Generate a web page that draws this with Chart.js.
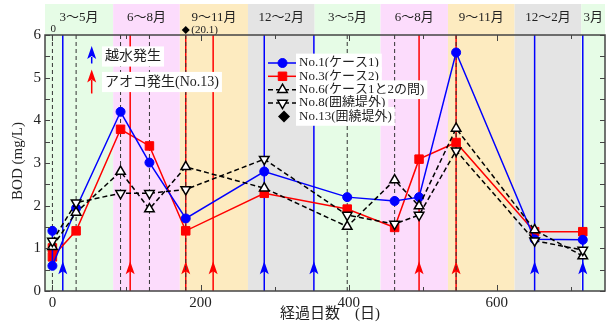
<!DOCTYPE html>
<html>
<head>
<meta charset="utf-8">
<script src="https://cdn.jsdelivr.net/npm/chart.js@4/dist/chart.umd.min.js"></script>
<style>
  html, body { margin: 0; padding: 0; background: #fff; }
  canvas { display: block; }
</style>
</head>
<body>
<canvas id="c" width="612" height="329"></canvas>
<script>
// ---- data ----------------------------------------------------------------
// elapsed days of each sampling (two samplings on day 0 for No.1 / No.3)
const pairDays   = [0, 0, 32, 92, 131, 180, 286, 398, 462, 495, 545, 651, 716];
const sampleDays = [0, 32, 92, 131, 180, 286, 398, 462, 495, 545, 651, 716];

// BOD (mg/L)
const no1Bod = [1.41, 0.59, 1.94, 4.20, 3.01, 1.70, 2.80, 2.20, 2.11, 2.20, 5.59, 1.21, 1.20];
const no3Bod = [1.01, 0.80, 1.41, 3.79, 3.40, 1.41, 2.29, 1.92, 1.49, 3.09, 3.48, 1.39, 1.39];
const no6Bod = [1.04, 1.84, 2.80, 1.92, 2.91, 2.41, 1.51, 2.60, 1.99, 3.81, 1.43, 0.82];
const no8Bod = [1.17, 2.07, 2.29, 2.29, 2.38, 3.09, 1.78, 1.57, 1.78, 3.29, 1.18, 0.96];

// No.13 (outside the embankment) – off the scale, shown at the top edge
const no13Days = [180];
const no13Bod  = [20.1];

// events
const floodDays = [14, 286, 353, 651, 716];   // 越水発生
const bloomDays = [105, 180, 217, 495, 545];  // アオコ発生(No.13)

// days drawn with a black dashed guide line
const guideDays = [0, 32, 92, 131, 180, 398, 462, 545];

// seasons along the day axis
const seasonEdges = [-10, 82, 172, 264, 354, 443, 534, 624, 714, 746];
const seasonNames = ['3〜5月', '6〜8月', '9〜11月', '12〜2月', '3〜5月', '6〜8月', '9〜11月', '12〜2月', '3月'];
const seasonKinds = ['spring', 'summer', 'autumn', 'winter', 'spring', 'summer', 'autumn', 'winter', 'spring'];

// axis ticks
const xTickValues = [0, 200, 400, 600];
const yTickValues = [0, 1, 2, 3, 4, 5, 6];

// series names
const seriesNames = ['No.1(ケース1)', 'No.3(ケース2)', 'No.6(ケース1と2の問)', 'No.8(囲繞堤外)', 'No.13(囲繞堤外)'];

// ---- styles --------------------------------------------------------------
const SERIF = '"Liberation Serif", "Noto Sans CJK JP", serif';
const seasonColors = { spring: '#e6fce6', summer: '#fcdcfc', autumn: '#fdebc0', winter: '#e4e4e4' };
const BLUE = '#0000ff', RED = '#ff0000', FRAME = '#444';

const toPoints = (xs, ys) => xs.map((d, i) => ({ x: d, y: ys[i] }));

function marker(ctx, style, cx, cy, r, fill, stroke, lw, rot) {
  ctx.save();
  ctx.fillStyle = fill; ctx.strokeStyle = stroke; ctx.lineWidth = lw;
  ctx.setLineDash([]);
  ctx.beginPath();
  if (style === 'circle') {
    ctx.arc(cx, cy, r, 0, Math.PI * 2);
  } else if (style === 'rect') {
    const s = r * Math.SQRT1_2;
    ctx.rect(cx - s, cy - s, 2 * s, 2 * s);
  } else if (style === 'triangle') {
    let a = (rot || 0) * Math.PI / 180;
    for (let k = 0; k < 3; k++) {
      const px = cx + Math.sin(a) * r, py = cy - Math.cos(a) * r;
      if (k === 0) ctx.moveTo(px, py); else ctx.lineTo(px, py);
      a += 2 * Math.PI / 3;
    }
    ctx.closePath();
  } else if (style === 'diamond') {
    ctx.moveTo(cx, cy - r); ctx.lineTo(cx + r, cy); ctx.lineTo(cx, cy + r); ctx.lineTo(cx - r, cy);
    ctx.closePath();
  }
  ctx.fill();
  if (lw > 0) ctx.stroke();
  ctx.restore();
}

function arrow(ctx, px, tipY, color) {
  ctx.save();
  ctx.fillStyle = color;
  ctx.beginPath();
  ctx.moveTo(px, tipY);
  ctx.lineTo(px + 4.5, tipY + 13);
  ctx.lineTo(px, tipY + 10);
  ctx.lineTo(px - 4.5, tipY + 13);
  ctx.closePath();
  ctx.fill();
  ctx.restore();
}

function vline(ctx, px, y0, y1, color, width, dash) {
  ctx.save();
  ctx.strokeStyle = color; ctx.lineWidth = width;
  ctx.setLineDash(dash || []);
  ctx.beginPath(); ctx.moveTo(px, y0); ctx.lineTo(px, y1); ctx.stroke();
  ctx.restore();
}

function textBox(ctx, text, x, y, size) {
  ctx.save();
  ctx.font = size + 'px ' + SERIF;
  const w = ctx.measureText(text).width;
  ctx.fillStyle = '#fff';
  ctx.fillRect(x - 3, y - size * 0.72, w + 6, size * 1.44);
  ctx.fillStyle = '#222';
  ctx.textAlign = 'left'; ctx.textBaseline = 'middle';
  ctx.fillText(text, x, y);
  ctx.restore();
}

// ---- plugins -------------------------------------------------------------
const seasonBands = {
  id: 'seasonBands',
  beforeDraw(chart) {
    const { ctx, chartArea: a, scales: { x } } = chart;
    ctx.save();
    for (let i = 0; i < seasonNames.length; i++) {
      const x0 = x.getPixelForValue(seasonEdges[i]);
      const x1 = x.getPixelForValue(seasonEdges[i + 1]);
      ctx.fillStyle = seasonColors[seasonKinds[i]];
      ctx.fillRect(x0, 4, x1 - x0, a.bottom - 4);
      ctx.fillStyle = '#222';
      ctx.font = '13px ' + SERIF;
      ctx.textAlign = 'center'; ctx.textBaseline = 'middle';
      ctx.fillText(seasonNames[i], (x0 + x1) / 2, 18);
    }
    ctx.restore();
  },
  beforeDatasetsDraw(chart) {
    const { ctx, chartArea: a, scales: { x, y } } = chart;
    const tipY = y.getPixelForValue(0.7);
    floodDays.forEach(d => {
      const px = x.getPixelForValue(d);
      vline(ctx, px, a.bottom, a.top, BLUE, 1.5);
      arrow(ctx, px, tipY, BLUE);
    });
    bloomDays.forEach(d => {
      const px = x.getPixelForValue(d);
      vline(ctx, px, a.bottom, a.top, RED, 1.5);
      arrow(ctx, px, tipY, RED);
    });
    guideDays.forEach(d => {
      vline(ctx, x.getPixelForValue(d), a.bottom, a.top, '#333', 1, [4, 3]);
    });
  },
  afterDatasetsDraw(chart) {
    const { ctx, chartArea: a, scales: { x, y } } = chart;
    ctx.save();
    // frame
    ctx.strokeStyle = FRAME; ctx.lineWidth = 1.5;
    ctx.strokeRect(a.left, a.top, a.right - a.left, a.bottom - a.top);
    // inward ticks
    ctx.lineWidth = 1;
    ctx.beginPath();
    for (let v = 0; v <= 6; v += 0.5) {
      const py = Math.round(y.getPixelForValue(v)) + 0.5;
      ctx.moveTo(a.left, py); ctx.lineTo(a.left + 5, py);
      ctx.moveTo(a.right, py); ctx.lineTo(a.right - 5, py);
    }
    for (let v = 0; v <= 700; v += 100) {
      const px = Math.round(x.getPixelForValue(v)) + 0.5;
      const len = v % 200 === 0 ? 6 : 4;
      ctx.moveTo(px, a.bottom); ctx.lineTo(px, a.bottom - len);
      ctx.moveTo(px, a.top); ctx.lineTo(px, a.top + len);
    }
    ctx.stroke();
    ctx.restore();

    // No.13 value above the plot
    no13Days.forEach((d, i) => {
      const px = x.getPixelForValue(d);
      const py = no13Bod[i] > y.max ? a.top - 5 : y.getPixelForValue(no13Bod[i]);
      marker(ctx, 'diamond', px, py, 4, '#000', '#000', 0);
      ctx.save();
      ctx.font = '11px ' + SERIF; ctx.fillStyle = '#222';
      ctx.textAlign = 'left'; ctx.textBaseline = 'middle';
      ctx.fillText('(' + no13Bod[i].toFixed(1) + ')', px + 5.5, py + 0.5);
      ctx.restore();
    });
    ctx.save();
    ctx.font = '11px ' + SERIF; ctx.fillStyle = '#222';
    ctx.textAlign = 'center'; ctx.textBaseline = 'middle';
    ctx.fillText('0', x.getPixelForValue(1), a.top - 6);
    ctx.restore();

    // event legend
    ctx.save();
    vline(ctx, 91.7, 57, 63.5, BLUE, 1.5);
    arrow(ctx, 91.7, 46, BLUE);
    vline(ctx, 91.7, 80, 93.5, RED, 1.5);
    arrow(ctx, 91.7, 69.5, RED);
    ctx.restore();
    textBox(ctx, '越水発生', 105, 56.5, 14);
    textBox(ctx, 'アオコ発生(No.13)', 105, 82, 14);

    // series legend
    const rowY = [63, 76.3, 89.7, 103, 116.4];
    const ds = chart.data.datasets;
    for (let i = 0; i < 4; i++) {
      const d = ds[i];
      ctx.save();
      ctx.strokeStyle = d.borderColor; ctx.lineWidth = 1.5;
      ctx.setLineDash(d.borderDash || []);
      ctx.beginPath(); ctx.moveTo(268, rowY[i]); ctx.lineTo(297, rowY[i]); ctx.stroke();
      ctx.restore();
      marker(ctx, d.pointStyle, 282.5, rowY[i], d.pointRadius, d.pointBackgroundColor,
             d.pointBorderColor, d.pointBorderWidth, d.pointRotation);
      textBox(ctx, seriesNames[i], 299, rowY[i], 13);
    }
    marker(ctx, 'diamond', 284, rowY[4], 6, '#000', '#000', 0);
    textBox(ctx, seriesNames[4], 299, rowY[4], 13);

    // axis titles
    ctx.save();
    ctx.fillStyle = '#222';
    ctx.font = '15px ' + SERIF;
    ctx.textAlign = 'center'; ctx.textBaseline = 'middle';
    ctx.fillText('経過日数　(日)', 330, 314);
    ctx.translate(18.5, 161);
    ctx.rotate(-Math.PI / 2);
    ctx.fillText('BOD (mg/L)', 0, 0);
    ctx.restore();
  }
};

// ---- chart ---------------------------------------------------------------
const lineBase = { showLine: true, borderWidth: 1.5, pointHoverRadius: 5, fill: false, tension: 0 };

new Chart(document.getElementById('c'), {
  type: 'scatter',
  data: {
    datasets: [
      Object.assign({}, lineBase, {
        label: seriesNames[0], data: toPoints(pairDays, no1Bod), order: 2,
        borderColor: BLUE, pointStyle: 'circle', pointRadius: 4.5,
        pointBackgroundColor: BLUE, pointBorderColor: BLUE, pointBorderWidth: 1
      }),
      Object.assign({}, lineBase, {
        label: seriesNames[1], data: toPoints(pairDays, no3Bod), order: 3,
        borderColor: RED, pointStyle: 'rect', pointRadius: 6,
        pointBackgroundColor: RED, pointBorderColor: RED, pointBorderWidth: 1
      }),
      Object.assign({}, lineBase, {
        label: seriesNames[2], data: toPoints(sampleDays, no6Bod), order: 1,
        borderColor: '#000', borderDash: [5, 3], pointStyle: 'triangle', pointRadius: 5.5,
        pointBackgroundColor: '#fff', pointBorderColor: '#000', pointBorderWidth: 1.5, pointRotation: 0
      }),
      Object.assign({}, lineBase, {
        label: seriesNames[3], data: toPoints(sampleDays, no8Bod), order: 0,
        borderColor: '#000', borderDash: [5, 3], pointStyle: 'triangle', pointRadius: 5.5,
        pointBackgroundColor: '#fff', pointBorderColor: '#000', pointBorderWidth: 1.5, pointRotation: 180
      })
    ]
  },
  options: {
    responsive: false,
    animation: false,
    devicePixelRatio: 1,
    layout: { padding: { top: 35, right: 5, left: 0, bottom: 0 } },
    plugins: { legend: { display: false }, tooltip: { enabled: false } },
    scales: {
      x: {
        type: 'linear', min: -10, max: 746,
        grid: { display: false, drawTicks: false }, border: { display: false },
        ticks: { font: { family: SERIF, size: 15 }, color: '#222', padding: 3, includeBounds: false },
        afterBuildTicks: s => { s.ticks = xTickValues.map(v => ({ value: v })); },
        afterFit: s => { s.height = 38; }
      },
      y: {
        type: 'linear', min: 0, max: 6,
        grid: { display: false, drawTicks: false }, border: { display: false },
        ticks: { font: { family: SERIF, size: 15 }, color: '#222', padding: 4, includeBounds: false },
        afterBuildTicks: s => { s.ticks = yTickValues.map(v => ({ value: v })); },
        afterFit: s => { s.width = 45; }
      }
    }
  },
  plugins: [seasonBands]
});
</script>
</body>
</html>
